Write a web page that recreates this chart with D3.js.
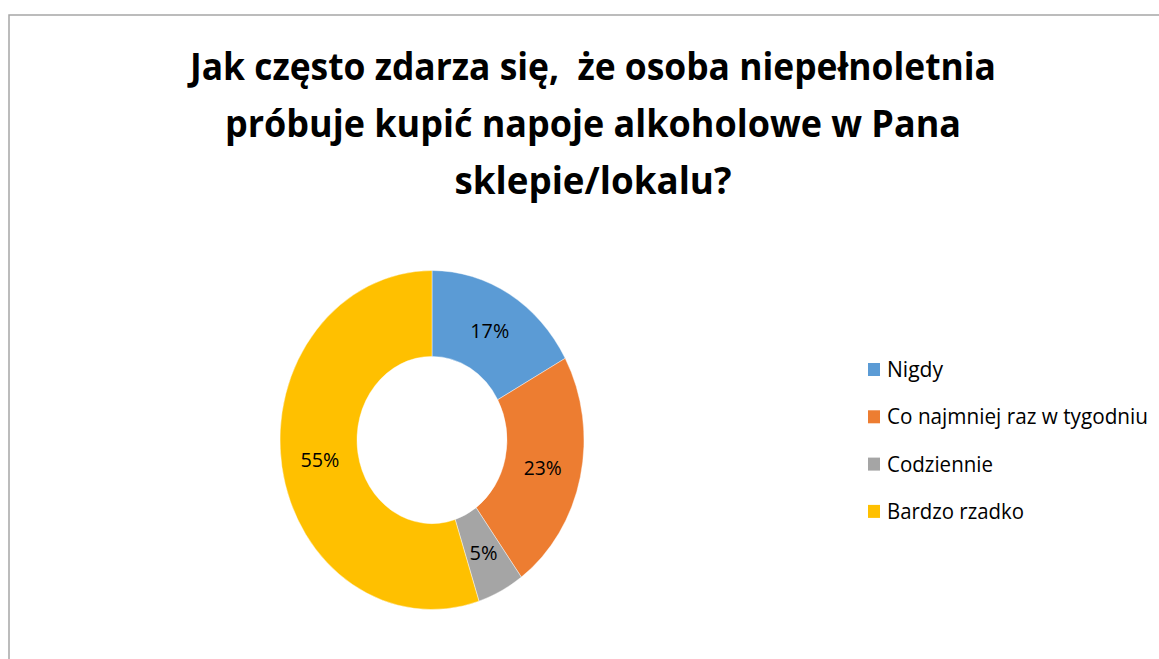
<!DOCTYPE html>
<html>
<head>
<meta charset="utf-8">
<script src="https://cdn.jsdelivr.net/npm/d3@7"></script>
<style>
  body { margin: 0; background: #fff; }
  svg { display: block; }
  text { white-space: pre; }
</style>
</head>
<body>
<svg width="1159" height="659"></svg>
<script>
// data
var categories = ["Nigdy", "Co najmniej raz w tygodniu", "Codziennie", "Bardzo rzadko"];
var values = [17, 23, 5, 55];
var colors = ["#5B9BD5", "#ED7D31", "#A5A5A5", "#FFC000"];
var titleLines = ["Jak często zdarza się,  że osoba niepełnoletnia",
                  "próbuje kupić napoje alkoholowe w Pana",
                  "sklepie/lokalu?"];

var svg = d3.select("svg");

// chart frame (only top and left edges are visible)
svg.append("rect")
  .attr("x", 9).attr("y", 15)
  .attr("width", 1200).attr("height", 700)
  .attr("fill", "none")
  .attr("stroke", "#a6a6a6")
  .attr("stroke-width", 1.5);

// title, stretched to the widths seen in the picture
var titleW = [806, 736, 277];
svg.append("g").selectAll("text").data(titleLines).enter().append("text")
  .attr("x", 593)
  .attr("y", function (d, i) { return 80 + i * 57; })
  .attr("text-anchor", "middle")
  .attr("font-family", "'Open Sans', sans-serif")
  .attr("font-weight", "bold")
  .attr("font-size", 38)
  .attr("fill", "#000")
  .attr("textLength", function (d, i) { return titleW[i]; })
  .attr("lengthAdjust", "spacingAndGlyphs")
  .text(function (d) { return d; });

// donut (the picture is stretched vertically)
var cx = 432, cy = 440, sy = 1.115;
var pie = d3.pie().sort(null).value(function (d) { return d; });
var arcs = pie(values);
var arc = d3.arc().innerRadius(75).outerRadius(152);

var donut = svg.append("g")
  .attr("transform", "translate(" + cx + "," + cy + ") scale(1," + sy + ")");

donut.selectAll("path").data(arcs).enter().append("path")
  .attr("d", arc)
  .attr("fill", function (d, i) { return colors[i]; })
  .attr("stroke", "#fff")
  .attr("stroke-width", 0.4);

var labelW = [39, 38, 28, 39];
svg.append("g").selectAll("text").data(arcs).enter().append("text")
  .attr("x", function (d) { return cx + arc.centroid(d)[0]; })
  .attr("y", function (d) { return cy + arc.centroid(d)[1] * sy; })
  .attr("dy", "0.36em")
  .attr("text-anchor", "middle")
  .attr("font-family", "'Open Sans', sans-serif")
  .attr("font-size", 20)
  .attr("fill", "#000")
  .attr("textLength", function (d, i) { return labelW[i]; })
  .attr("lengthAdjust", "spacingAndGlyphs")
  .text(function (d) { return d.value + "%"; });

// legend
var legW = [56, 261, 106, 137];
var legend = svg.append("g").selectAll("g").data(categories).enter().append("g")
  .attr("transform", function (d, i) { return "translate(868," + (377 + i * 47.3) + ")"; });

legend.append("rect")
  .attr("x", 0).attr("y", -14)
  .attr("width", 12).attr("height", 13)
  .attr("fill", function (d, i) { return colors[i]; });

legend.append("text")
  .attr("x", 19).attr("y", 0)
  .attr("font-family", "'Open Sans', sans-serif")
  .attr("font-size", 21)
  .attr("fill", "#000")
  .attr("textLength", function (d, i) { return legW[i]; })
  .attr("lengthAdjust", "spacingAndGlyphs")
  .text(function (d) { return d; });
</script>
</body>
</html>
